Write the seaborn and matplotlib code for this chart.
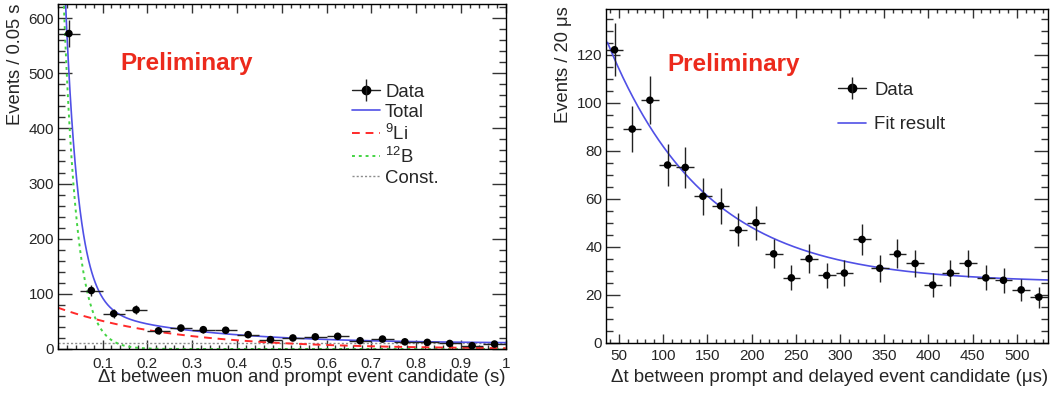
import numpy as np
import pandas as pd
import seaborn as sns
import matplotlib.pyplot as plt
from matplotlib.lines import Line2D
from matplotlib.ticker import MultipleLocator

# left panel: time since muon, bins of 0.05 s
t_mu = [0.025, 0.075, 0.125, 0.175, 0.225, 0.275, 0.325, 0.375, 0.425, 0.475,
        0.525, 0.575, 0.625, 0.675, 0.725, 0.775, 0.825, 0.875, 0.925, 0.975]
n_mu = [572, 106, 64, 71, 33, 38, 35, 34, 26, 17,
        20, 22, 23, 15, 18, 13, 12, 10, 6, 9]
# fit components (events per bin)
b12_norm, b12_tau = 1000.0, 0.0291
li9_norm, li9_tau = 75.0, 0.257
const_lvl = 10.0

# right panel: prompt-delayed time, bins of 20 us
t_pd = [45, 65, 85, 105, 125, 145, 165, 185, 205, 225, 245, 265, 285, 305, 325,
        345, 365, 385, 405, 425, 445, 465, 485, 505, 525]
n_pd = [122, 89, 101, 74, 73, 61, 57, 47, 50, 37, 27, 35, 28, 29, 43,
        31, 37, 33, 24, 29, 33, 27, 26, 22, 19]
fit_norm, fit_tau, fit_const = 139.7, 111.0, 25.0

sns.set_style('ticks')
plt.rcParams['font.family'] = ['Liberation Sans', 'DejaVu Sans']
plt.rcParams['mathtext.fontset'] = 'custom'
plt.rcParams['mathtext.rm'] = 'Liberation Sans'
plt.rcParams['mathtext.it'] = 'Liberation Sans:italic'

BLUE = '#5050e6'
RED = '#ff2a2a'
GREEN = '#44d444'
GRAY = '#8c8c8c'
PREL = '#ec2a1c'

fig = plt.figure(figsize=(10.5, 3.98), dpi=100)
W, H = 1050, 398
ax1 = fig.add_axes([57.7 / W, (H - 349) / H, 448 / W, 344.7 / H])
ax2 = fig.add_axes([605.7 / W, (H - 342.7) / H, 442 / W, 333.7 / H])


def style(ax):
    for s in ax.spines.values():
        s.set_linewidth(1.0)
        s.set_color('black')
    ax.tick_params(which='both', direction='in', top=True, right=True,
                   labelsize=11, color='#333333', width=1)
    ax.tick_params(axis='x', which='major', length=6.5)
    ax.tick_params(axis='x', which='minor', length=3.2)
    ax.tick_params(axis='y', which='major', length=10, pad=2.5)
    ax.tick_params(axis='y', which='minor', length=5)


def data_points(ax, x, y, xhalf):
    ax.errorbar(x, y, xerr=xhalf, yerr=np.sqrt(np.array(y, dtype=float)),
                fmt='none', ecolor='#222222', elinewidth=1.0, capsize=0, zorder=4)
    sns.scatterplot(x=x, y=y, ax=ax, color='black', s=30, edgecolor='none',
                    zorder=5, legend=False)


def data_handle():
    return (Line2D([], [], color='#222222', marker='o', mfc='black', mec='black', ms=6, lw=1.0),
            Line2D([], [], color='#222222', marker='|', ms=16, mew=1.0, linestyle='none'))


# ---- left panel
tt = np.linspace(0, 1, 800)
df1 = pd.DataFrame({
    't': tt,
    'B12': b12_norm * np.exp(-tt / b12_tau),
    'Li9': li9_norm * np.exp(-tt / li9_tau),
    'Const': const_lvl,
})
df1['Total'] = df1['B12'] + df1['Li9'] + df1['Const']

sns.lineplot(data=df1, x='t', y='Const', ax=ax1, color=GRAY, lw=1.0,
             linestyle=(0, (1.5, 1.5)))
sns.lineplot(data=df1, x='t', y='B12', ax=ax1, color=GREEN, lw=1.4,
             linestyle=(0, (1.5, 2)))
sns.lineplot(data=df1, x='t', y='Li9', ax=ax1, color=RED, lw=1.4,
             linestyle=(0, (4, 3)))
sns.lineplot(data=df1, x='t', y='Total', ax=ax1, color=BLUE, lw=1.2)
data_points(ax1, t_mu, n_mu, 0.025)

ax1.set_xlim(0, 1)
ax1.set_ylim(0, 625)
ax1.xaxis.set_minor_locator(MultipleLocator(0.02))
ax1.yaxis.set_major_locator(MultipleLocator(100))
ax1.yaxis.set_minor_locator(MultipleLocator(20))
ax1.set_xticks(np.arange(0.1, 1.01, 0.1))
ax1.set_xticklabels(['0.1', '0.2', '0.3', '0.4', '0.5', '0.6', '0.7', '0.8', '0.9', '1'])
style(ax1)
ax1.tick_params(axis='x', pad=5.5)
ax1.set_xlabel('Δt between muon and prompt event candidate (s)', fontsize=13.4, loc='right')
ax1.xaxis.set_label_coords(1.0, -0.058)
ax1.set_ylabel('Events / 0.05 s', fontsize=13.2, loc='top')
ax1.yaxis.set_label_coords(-0.076, 1.003)

h1 = [
    data_handle(),
    Line2D([], [], color=BLUE, lw=1.2),
    Line2D([], [], color=RED, lw=1.4, linestyle=(0, (4, 3))),
    Line2D([], [], color=GREEN, lw=1.4, linestyle=(0, (1.5, 2))),
    Line2D([], [], color=GRAY, lw=1.0, linestyle=(0, (1.5, 1.5))),
]
l1 = ['Data', 'Total', r'$^{9}$Li', r'$^{12}$B', 'Const.']
ax1.legend(h1, l1, loc='upper left', bbox_to_anchor=(0.658, 0.77), frameon=False,
           fontsize=13.4, handlelength=1.5, handletextpad=0.25, labelspacing=0.16,
           borderpad=0, borderaxespad=0)

# ---- right panel
tp = np.linspace(37, 535, 600)
df2 = pd.DataFrame({'t': tp, 'fit': fit_norm * np.exp(-tp / fit_tau) + fit_const})
sns.lineplot(data=df2, x='t', y='fit', ax=ax2, color=BLUE, lw=1.2)
data_points(ax2, t_pd, n_pd, 10)

ax2.set_xlim(35, 535)
ax2.set_ylim(0, 139)
ax2.xaxis.set_major_locator(MultipleLocator(50))
ax2.xaxis.set_minor_locator(MultipleLocator(10))
ax2.yaxis.set_major_locator(MultipleLocator(20))
ax2.yaxis.set_minor_locator(MultipleLocator(5))
style(ax2)
ax2.tick_params(axis='x', pad=4.5)
ax2.set_xlabel('Δt between prompt and delayed event candidate (μs)', fontsize=13.4, loc='right')
ax2.xaxis.set_label_coords(1.0, -0.079)
ax2.set_ylabel('Events / 20 μs', fontsize=13.2, loc='top')
ax2.yaxis.set_label_coords(-0.076, 1.009)

h2 = [data_handle(), Line2D([], [], color=BLUE, lw=1.2)]
ax2.legend(h2, ['Data', 'Fit result'], loc='upper left', bbox_to_anchor=(0.525, 0.782),
           frameon=False, fontsize=13.4, handlelength=1.5, handletextpad=0.45,
           labelspacing=0.95, borderpad=0, borderaxespad=0)

fig.text(120 / W, 1 - 70 / H, 'Preliminary', color=PREL, fontsize=17.5,
         fontweight='bold', va='baseline')
fig.text(667 / W, 1 - 71 / H, 'Preliminary', color=PREL, fontsize=17.5,
         fontweight='bold', va='baseline')

fig.savefig('out.png', dpi=100)
